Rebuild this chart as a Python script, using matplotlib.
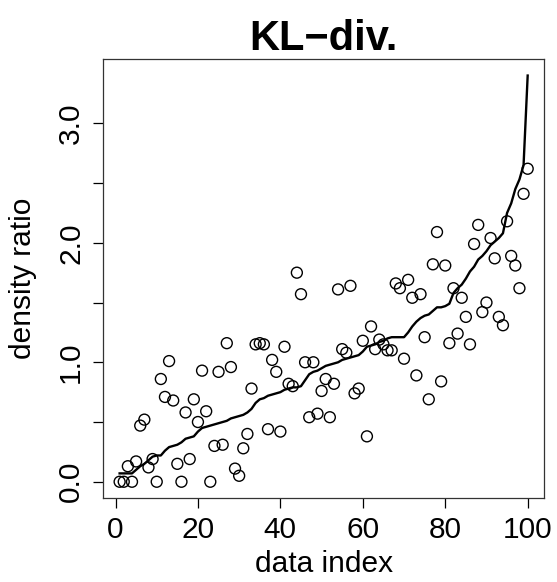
import matplotlib
matplotlib.use("Agg")
import matplotlib.pyplot as plt
import numpy as np

plt.rcParams['font.family'] = ['Liberation Sans', 'DejaVu Sans']

title = "KL\u2212div."
xlabel = "data index"
ylabel = "density ratio"

# estimated density ratio (points), index 1..100
estimates = [
    0.00, 0.00, 0.13, 0.00, 0.17, 0.47, 0.52, 0.12, 0.19, 0.00,
    0.86, 0.71, 1.01, 0.68, 0.15, 0.00, 0.58, 0.19, 0.69, 0.50,
    0.93, 0.59, 0.00, 0.30, 0.92, 0.31, 1.16, 0.96, 0.11, 0.05,
    0.28, 0.40, 0.78, 1.15, 1.16, 1.15, 0.44, 1.02, 0.92, 0.42,
    1.13, 0.82, 0.80, 1.75, 1.57, 1.00, 0.54, 1.00, 0.57, 0.76,
    0.86, 0.54, 0.82, 1.61, 1.11, 1.08, 1.64, 0.74, 0.78, 1.18,
    0.38, 1.30, 1.11, 1.19, 1.15, 1.10, 1.10, 1.66, 1.62, 1.03,
    1.69, 1.54, 0.89, 1.57, 1.21, 0.69, 1.82, 2.09, 0.84, 1.81,
    1.16, 1.62, 1.24, 1.54, 1.38, 1.15, 1.99, 2.15, 1.42, 1.50,
    2.04, 1.87, 1.38, 1.31, 2.18, 1.89, 1.81, 1.62, 2.41, 2.62,
]

# true density ratio (sorted line), index 1..100
true_ratio = [
    0.07, 0.07, 0.07, 0.07, 0.10, 0.13, 0.15, 0.18, 0.21, 0.22,
    0.22, 0.26, 0.29, 0.30, 0.31, 0.33, 0.36, 0.37, 0.38, 0.42,
    0.45, 0.46, 0.47, 0.48, 0.49, 0.50, 0.51, 0.53, 0.54, 0.55,
    0.56, 0.58, 0.61, 0.66, 0.69, 0.70, 0.72, 0.73, 0.74, 0.75,
    0.77, 0.78, 0.79, 0.79, 0.80, 0.85, 0.90, 0.92, 0.93, 0.95,
    0.97, 0.98, 0.99, 1.00, 1.02, 1.03, 1.04, 1.05, 1.06, 1.09,
    1.13, 1.14, 1.15, 1.17, 1.18, 1.20, 1.21, 1.21, 1.21, 1.21,
    1.25, 1.30, 1.34, 1.37, 1.39, 1.40, 1.43, 1.46, 1.46, 1.47,
    1.49, 1.58, 1.62, 1.65, 1.70, 1.76, 1.80, 1.86, 1.89, 1.93,
    1.98, 2.01, 2.04, 2.08, 2.25, 2.33, 2.45, 2.53, 2.65, 3.40,
]

x_ticks = [0, 20, 40, 60, 80, 100]
y_ticks = [0.0, 0.5, 1.0, 1.5, 2.0, 2.5, 3.0]
y_ticklabels = ["0.0", "", "1.0", "", "2.0", "", "3.0"]

W, H = 557, 582
fig = plt.figure(figsize=(W / 100, H / 100), dpi=100)
ax = fig.add_axes([103.3 / W, 1 - 498 / H, (544 - 103.3) / W, (498 - 59.3) / H])

idx = np.arange(1, len(estimates) + 1)
ax.plot(idx, true_ratio, color='black', lw=1.7, zorder=2)
ax.scatter(idx, estimates, s=62, facecolors='none', edgecolors='black',
           linewidths=1.0, zorder=3)

ymax = max(true_ratio)
ax.set_xlim(1 - 0.04 * 99, 100 + 0.04 * 99)
ax.set_ylim(-0.04 * ymax, ymax * 1.04)

ax.set_xticks(x_ticks)
ax.set_xticklabels([str(t) for t in x_ticks], fontsize=21.5)
ax.set_yticks(y_ticks)
ax.set_yticklabels(y_ticklabels, fontsize=21.5, rotation=90, va='center')
ax.tick_params(direction='out', length=7, width=0.9, pad=6)

for s in ax.spines.values():
    s.set_linewidth(0.9)
    s.set_color('#333333')

ax.set_xlabel(xlabel, fontsize=21.5)
ax.set_ylabel(ylabel, fontsize=21.5)
ax.xaxis.set_label_coords(0.5, -0.118)
ax.yaxis.set_label_coords(-0.15, 0.5)
ax.set_title(title, fontsize=30, fontweight='bold', pad=7)

fig.savefig("out.png", dpi=100)
